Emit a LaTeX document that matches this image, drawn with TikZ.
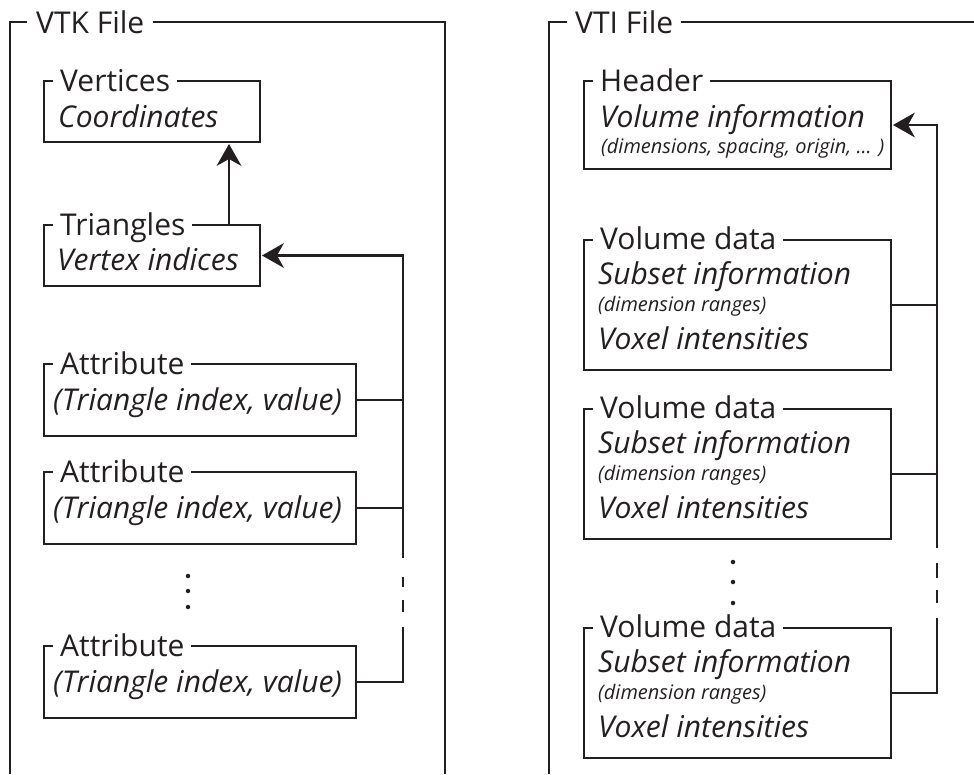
\documentclass[tikz,border=0pt]{standalone}
\usepackage{fontspec}
\setmainfont{Open Sans}
\definecolor{ink}{RGB}{35,31,32}
\begin{document}
\begin{tikzpicture}[x=1pt,y=-1pt,line join=miter,color=ink,
  frame/.style={line width=2.6pt},
  box/.style={draw,line width=2pt,anchor=north west,inner sep=0pt},
  ttl/.style={fill=white,inner xsep=7pt,inner ysep=0pt,anchor=base west,
    font=\fontsize{30}{30}\selectfont},
  txt/.style={inner sep=0pt,anchor=base west,font=\fontsize{30}{30}\selectfont\itshape},
  small/.style={inner sep=0pt,anchor=base west,font=\fontsize{20}{20}\selectfont\itshape},
  wire/.style={line width=2.4pt},
  dot/.style={circle,fill,inner sep=0pt,minimum size=4.5pt},
  % filled arrow head, tip at the origin, pointing along +x
  pics/tiphead/.style={code={\fill (0,0) -- (-22,12.5) -- (-15,0) -- (-22,-12.5) -- cycle;}}]
\useasboundingbox (0,0) rectangle (974,774);

% ---------- VTK file ----------
\draw[frame] (10,774) -- (10,22) -- (445,22) -- (445,774);
\node[ttl,inner xsep=9pt] (vtktitle) at (27,33) {VTK File};

\node[box,minimum width=216pt,minimum height=61pt] (vert) at (43,80) {};
\node[ttl] (verttitle) at ([shift={(10,11)}]vert.north west) {Vertices};
\node[txt] (verttxt) at ([shift={(15,47)}]vert.north west) {Coordinates};

\node[box,minimum width=216pt,minimum height=61pt] (tri) at (43,224) {};
\node[ttl] (trititle) at ([shift={(10,11)}]tri.north west) {Triangles};
\node[txt] (tritxt) at ([shift={(14,46)}]tri.north west) {Vertex indices};

\foreach \n/\y in {att1/363,att2/471,att3/645}{
  \node[box,minimum width=312pt,minimum height=72pt] (\n) at (43,\y) {};
  \node[ttl] (\n title) at ([shift={(10,11)}]\n.north west) {Attribute};
  \node[txt] (\n txt) at ([shift={(10,47)}]\n.north west) {(Triangle index, value)};
}
\node[dot] (vd1) at (188,576) {};
\node[dot] (vd2) at (188,591) {};
\node[dot] (vd3) at (188,607) {};

% connectors
\draw[wire] ([xshift=77pt]tri.north) -- ([xshift=77pt,yshift=-15pt]vert.south);
\pic[rotate=90] at ([xshift=77pt,yshift=-1pt]vert.south) {tiphead};
\coordinate (vb1) at (403,558);
\coordinate (vb2) at (403,627);
\draw[wire] (vb1) |- ([xshift=15pt]tri.east);
\pic[rotate=180] at ([xshift=1pt]tri.east) {tiphead};
\draw[wire] (att3.east) -| (vb2);
\draw[wire] (att1.east) -- (att1.east -| vb1);
\draw[wire] (att2.east) -- (att2.east -| vb1);
\draw[wire,dash pattern=on 0pt off 19pt on 10pt off 13pt on 12pt off 40pt] (vb1) -- (vb2);

% ---------- VTI file ----------
\draw[frame] (549,774) -- (549,22) -- (974,22);
\node[ttl,inner xsep=8pt] (vtititle) at (567,33) {VTI File};

\node[box,minimum width=307pt,minimum height=88pt] (head) at (583,80) {};
\node[ttl] (headtitle) at ([shift={(10,11)}]head.north west) {Header};
\node[txt] (headtxt) at ([shift={(17,47)}]head.north west) {Volume information};
\node[small] (headsub) at ([shift={(18,73)}]head.north west) {(dimensions, spacing, origin, ... )};

\foreach \n/\y in {vol1/239,vol2/408,vol3/627}{
  \node[box,minimum width=307pt,minimum height=130pt] (\n) at (583,\y) {};
  \node[ttl] (\n title) at ([shift={(10,10)}]\n.north west) {Volume data};
  \node[txt] (\n a) at ([shift={(15,45)}]\n.north west) {Subset information};
  \node[small] (\n b) at ([shift={(15,72)}]\n.north west) {(dimension ranges)};
  \node[txt] (\n c) at ([shift={(15,110)}]\n.north west) {Voxel intensities};
}
\node[dot] (wd1) at (733,562) {};
\node[dot] (wd2) at (733,582) {};
\node[dot] (wd3) at (733,603) {};

\coordinate (wb1) at (937,548);
\coordinate (wb2) at (937,618);
\draw[wire] (wb1) |- ([xshift=15pt]head.east);
\pic[rotate=180] at ([xshift=1pt]head.east) {tiphead};
\draw[wire] (vol3.east) -| (wb2);
\draw[wire] (vol1.east) -- (vol1.east -| wb1);
\draw[wire] (vol2.east) -- (vol2.east -| wb1);
\draw[wire,dash pattern=on 0pt off 15pt on 15pt off 12pt on 13pt off 40pt] (wb1) -- (wb2);
\end{tikzpicture}
\end{document}
